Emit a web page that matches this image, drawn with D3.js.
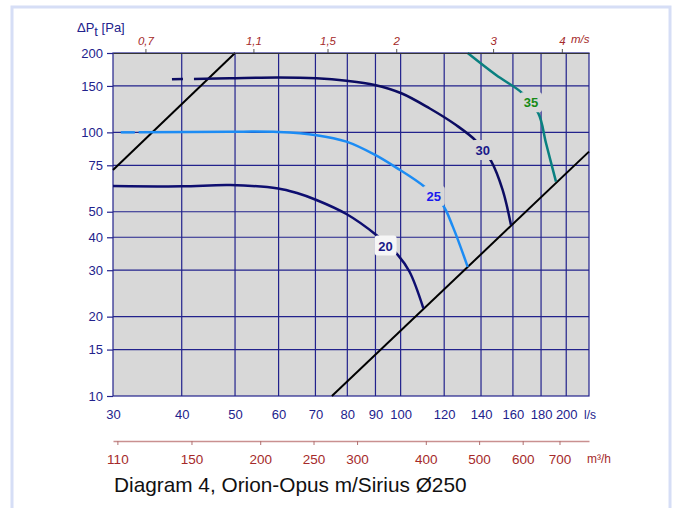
<!DOCTYPE html>
<html>
<head>
<meta charset="utf-8">
<script src="https://cdn.jsdelivr.net/npm/d3@7"></script>
<style>
  body { margin: 0; background: #fff; }
  svg text { font-family: "Liberation Sans", Arial, sans-serif; }
</style>
</head>
<body>
<div id="chart"></div>
<script>
// axis ticks
const flowTicks = [30, 40, 50, 60, 70, 80, 90, 100, 120, 140, 160, 180, 200];   // l/s
const pressureTicks = [10, 15, 20, 30, 40, 50, 75, 100, 150, 200];              // Pa
const velocityTicks = [0.7, 1.1, 1.5, 2, 3, 4];                                 // m/s
const airflowTicks = [110, 150, 200, 250, 300, 400, 500, 600, 700];             // m³/h

// fan curves [l/s, Pa]; first segment is the dashed lead-in (if any)
const fan20 = [[30, 62.6], [40, 62.4], [49, 63.1], [59.9, 61.3], [64.6, 59], [70.3, 55.4], [79.7, 49], [90.3, 40.8], [98.8, 34.3], [103.8, 29.6], [110, 21.5]];
const fan25 = [[31, 100], [33.4, 100], [48.9, 100.6], [59.9, 100.3], [70.3, 97.6], [79.7, 92.2], [89.7, 82.3], [98.2, 73.5], [110.5, 62.2], [119.3, 53], [124.4, 43.9], [132.4, 30.9]];
const fan30 = [[38.4, 159], [42.1, 159.5], [48.9, 160.4], [59.9, 161.5], [70.3, 160.4], [79.7, 157], [89.7, 151.3], [100.3, 140.7], [112.8, 123.4], [126.1, 106.6], [137.2, 92.7], [146, 78], [153.3, 60.4], [158.7, 44.5]];
const fan35 = [[132.4, 200], [149.1, 165], [166.6, 140.6], [178, 118], [183.8, 90.9], [191.6, 65]];

// curve labels
const fanNames = ['20', '25', '30', '35'];
const labelFlow = [93.9, 114.9, 141, 172.6];
const labelPressure = [37.2, 57.4, 85.7, 130];

// system (duct) lines [l/s, Pa]
const systemLow = [[75, 10], [220, 84.5]];
const systemHigh = [[30, 72], [50, 200]];

// duct Ø250 area for the m/s scale
const ductArea = Math.PI * 0.125 * 0.125;

const W = 678, H = 508;
const plotLeft = 113, plotRight = 589, plotTop = 53, plotBottom = 396;

const navy = '#22228c';
const red = '#a52a2a';
const plotBg = '#d8d8d8';

const svg = d3.select('#chart').append('svg')
  .attr('width', W)
  .attr('height', H);

// outer light-blue frame
svg.append('rect')
  .attr('x', 12).attr('y', 7)
  .attr('width', 658).attr('height', 520)
  .attr('fill', '#fff')
  .attr('stroke', '#d6def6')
  .attr('stroke-width', 3);

// scales
const x = d3.scaleLog().domain([30, 220]).range([plotLeft, plotRight]);
const y = d3.scaleLog().domain([10, 200]).range([plotBottom, plotTop]);
const vScale = d3.scaleLog()
  .domain(x.domain().map(q => q / 1000 / ductArea))
  .range([plotLeft, plotRight]);
const m3Scale = d3.scaleLog()
  .domain(x.domain().map(q => q * 3.6))
  .range([plotLeft, plotRight]);

// plot background
svg.append('rect')
  .attr('x', plotLeft).attr('y', plotTop)
  .attr('width', plotRight - plotLeft).attr('height', plotBottom - plotTop)
  .attr('fill', plotBg);

// grid
const grid = svg.append('g')
  .attr('stroke', navy)
  .attr('stroke-width', 1.2);

grid.selectAll('.vgrid')
  .data(flowTicks.slice(1))
  .enter().append('line')
    .attr('x1', d => x(d)).attr('x2', d => x(d))
    .attr('y1', plotTop).attr('y2', plotBottom);

grid.selectAll('.hgrid')
  .data(pressureTicks.slice(1, -1))
  .enter().append('line')
    .attr('x1', plotLeft).attr('x2', plotRight)
    .attr('y1', d => y(d)).attr('y2', d => y(d));

// plot border
svg.append('rect')
  .attr('x', plotLeft).attr('y', plotTop)
  .attr('width', plotRight - plotLeft).attr('height', plotBottom - plotTop)
  .attr('fill', 'none')
  .attr('stroke', navy)
  .attr('stroke-width', 1.2);

const line = d3.line()
  .x(d => x(d[0]))
  .y(d => y(d[1]))
  .curve(d3.curveCatmullRom.alpha(0.5));

const straight = d3.line()
  .x(d => x(d[0]))
  .y(d => y(d[1]));

// system lines
[systemLow, systemHigh].forEach(pts => {
  svg.append('path')
    .attr('d', straight(pts))
    .attr('fill', 'none')
    .attr('stroke', '#000')
    .attr('stroke-width', 2);
});

// fan curves
const fans = [
  { pts: fan20, color: '#0e0e70', dash: null },
  { pts: fan25, color: '#1c8cf4', dash: '14,4' },
  { pts: fan30, color: '#0c0c62', dash: '11,11' },
  { pts: fan35, color: '#0a8080', dash: null }
];

fans.forEach(f => {
  const solid = f.dash ? f.pts.slice(1) : f.pts;
  svg.append('path')
    .attr('d', line(solid))
    .attr('fill', 'none')
    .attr('stroke', f.color)
    .attr('stroke-width', 2.5);

  if (f.dash) {
    svg.append('path')
      .attr('d', straight(f.pts.slice(0, 2)))
      .attr('fill', 'none')
      .attr('stroke', f.color)
      .attr('stroke-width', 2.5)
      .attr('stroke-dasharray', f.dash);
  }
});

// curve labels on small patches
const labelColors = ['#1a1a88', '#1a1aee', '#1a1a88', '#168a16'];
const labelFills = ['#f6f6f6', plotBg, plotBg, plotBg];
const labels = svg.append('g');
fanNames.forEach((name, i) => {
  const cx = x(labelFlow[i]), cy = y(labelPressure[i]);
  labels.append('rect')
    .attr('x', cx - 11).attr('y', cy - 10)
    .attr('width', 22).attr('height', 20)
    .attr('rx', 3)
    .attr('fill', labelFills[i]);
  labels.append('text')
    .attr('x', cx).attr('y', cy + 5)
    .attr('text-anchor', 'middle')
    .attr('font-size', 13)
    .attr('font-weight', 'bold')
    .attr('fill', labelColors[i])
    .text(name);
});

// y axis (Pa)
const yAxis = svg.append('g')
  .attr('transform', `translate(${plotLeft}, 0)`)
  .call(d3.axisLeft(y)
    .tickValues(pressureTicks)
    .tickFormat(d3.format('d'))
    .tickSize(6)
    .tickSizeOuter(0)
    .tickPadding(4));
yAxis.select('.domain').remove();
yAxis.selectAll('.tick line').attr('stroke', navy).attr('stroke-width', 1.2);
yAxis.selectAll('.tick text')
  .attr('fill', navy)
  .attr('font-size', 13)
  .attr('font-family', '"Liberation Sans", Arial, sans-serif');

// x axis (l/s)
const xAxis = svg.append('g')
  .attr('transform', `translate(0, ${plotBottom})`)
  .call(d3.axisBottom(x)
    .tickValues(flowTicks)
    .tickFormat(d3.format('d'))
    .tickSize(0)
    .tickPadding(13.5));
xAxis.select('.domain').remove();
xAxis.selectAll('.tick text')
  .attr('fill', navy)
  .attr('font-size', 13)
  .attr('font-family', '"Liberation Sans", Arial, sans-serif');

svg.append('text')
  .attr('x', 584).attr('y', 419)
  .attr('font-size', 12)
  .attr('fill', navy)
  .text('l/s');

// top axis (m/s)
const vAxis = svg.append('g')
  .attr('transform', `translate(0, ${plotTop})`)
  .call(d3.axisTop(vScale)
    .tickValues(velocityTicks)
    .tickFormat(d => String(d).replace('.', ','))
    .tickSize(4)
    .tickSizeOuter(0)
    .tickPadding(4));
vAxis.select('.domain').attr('stroke', '#333').attr('stroke-width', 1.2);
vAxis.selectAll('.tick line').attr('stroke', '#555');
vAxis.selectAll('.tick text')
  .attr('fill', red)
  .attr('font-size', 11.5)
  .attr('font-style', 'italic')
  .attr('font-family', '"Liberation Sans", Arial, sans-serif');

svg.append('text')
  .attr('x', 571).attr('y', 43)
  .attr('font-size', 11.5)
  .attr('font-style', 'italic')
  .attr('fill', red)
  .text('m/s');

// bottom axis (m³/h)
const m3Axis = svg.append('g')
  .attr('transform', 'translate(0, 441)')
  .call(d3.axisBottom(m3Scale)
    .tickValues(airflowTicks)
    .tickFormat(d3.format('d'))
    .tickSize(4)
    .tickSizeOuter(0)
    .tickPadding(9.5));
m3Axis.select('.domain').attr('stroke', '#c99090').attr('stroke-width', 1.5);
m3Axis.selectAll('.tick line').attr('stroke', '#b07070');
m3Axis.selectAll('.tick text')
  .attr('fill', red)
  .attr('font-size', 13.5)
  .attr('font-family', '"Liberation Sans", Arial, sans-serif');

svg.append('text')
  .attr('x', 587).attr('y', 463)
  .attr('font-size', 12)
  .attr('fill', red)
  .text('m³/h');

// y title ΔPt [Pa]
const yTitle = svg.append('text')
  .attr('x', 77).attr('y', 32)
  .attr('font-size', 13)
  .attr('fill', navy);
yTitle.append('tspan').text('ΔP');
yTitle.append('tspan').attr('dy', 4).text('t');
yTitle.append('tspan').attr('dy', -4).text(' [Pa]');

// caption
svg.append('text')
  .attr('x', 114).attr('y', 492)
  .attr('font-size', 20.8)
  .attr('fill', '#111')
  .text('Diagram 4, Orion-Opus m/Sirius Ø250');
</script>
</body>
</html>
